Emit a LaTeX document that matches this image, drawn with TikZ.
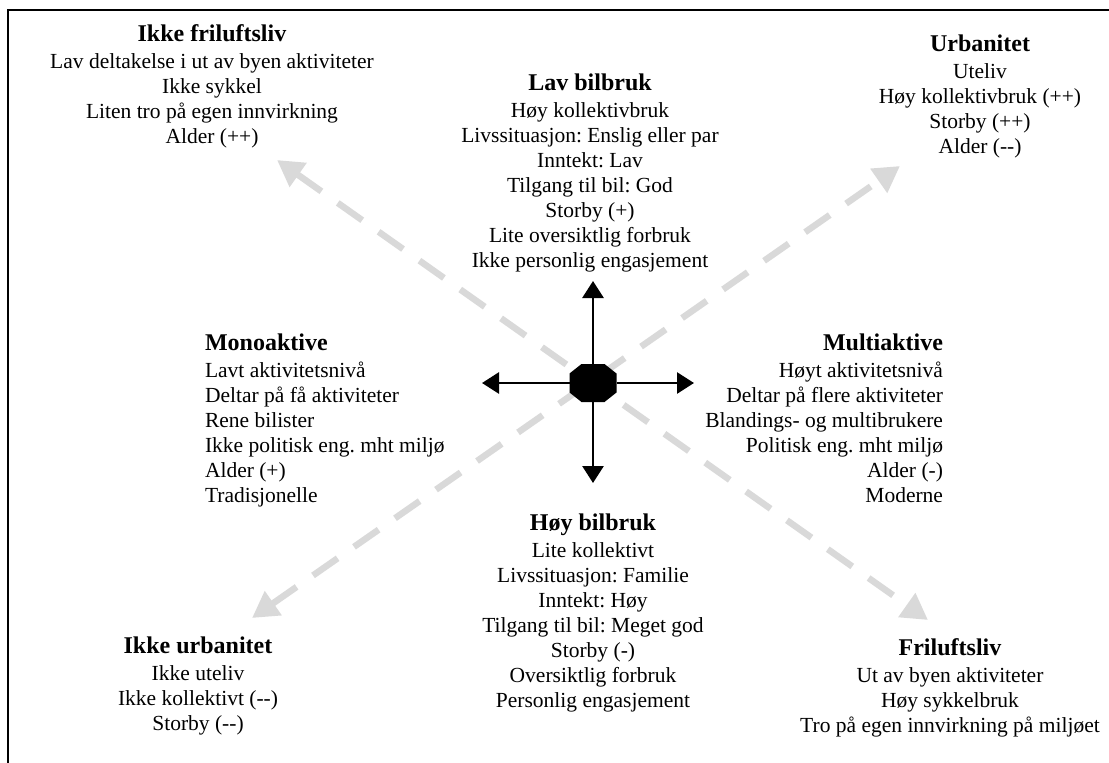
\documentclass[tikz,border=0pt]{standalone}
\usepackage{fontspec}
\setmainfont{Liberation Serif}
\usetikzlibrary{arrows.meta}
\frenchspacing
\newcommand\blocktitle[1]{{\fontsize{24}{25}\selectfont\bfseries #1}\\[2pt]}
\begin{document}
\begin{tikzpicture}[x=1pt,y=-1pt,
  every node/.style={inner sep=0pt, outer sep=0pt},
  block/.style={align=center, font=\fontsize{21.5}{25}\selectfont},
  leftblock/.style={align=left, font=\fontsize{21.5}{25}\selectfont},
  rightblock/.style={align=right, font=\fontsize{21.5}{25}\selectfont},
  frame/.style={line width=2pt},
  axisarrow/.style={line width=2.8pt, -{Triangle[length=17pt,width=21pt]}},
  diagarrow/.style={draw=black!15, line width=6.5pt, dash pattern=on 30pt off 20pt,
    {Triangle[length=26pt,width=28pt]}-{Triangle[length=26pt,width=28pt]}},
  hubbox/.style={rectangle, minimum width=47pt, minimum height=38pt}
]
\useasboundingbox (0,0) rectangle (1109,763);

% open frame: top and left edges
\draw[frame] (8,763) -- (8,10) -- (1109,10);

% end points of the two diagonal axes
\coordinate (ulA) at (277,160);
\coordinate (lrA) at (928,620);
\coordinate (urB) at (900,166);
\coordinate (llB) at (252,618);
\draw[diagarrow] (ulA) -- (lrA);
\draw[diagarrow] (llB) -- (urB);

% central hub: a black octagon with the four axes
\node[hubbox] (hub) at (593,383) {};
\fill ([xshift=12pt]hub.north west) -- ([xshift=-12pt]hub.north east)
  -- ([yshift=-9.5pt]hub.north east) -- ([yshift=9.5pt]hub.south east)
  -- ([xshift=-12pt]hub.south east) -- ([xshift=12pt]hub.south west)
  -- ([yshift=9.5pt]hub.south west) -- ([yshift=-9.5pt]hub.north west) -- cycle;
\coordinate (upT) at (593,281);
\coordinate (downT) at (593,483);
\coordinate (leftT) at (482,383);
\coordinate (rightT) at (694,383);
\draw[axisarrow] (hub.north) -- (upT);
\draw[axisarrow] (hub.south) -- (downT);
\draw[axisarrow] (hub.west) -- (leftT);
\draw[axisarrow] (hub.east) -- (rightT);

% text blocks
\node[block, anchor=north] (ikkefri) at (212,24.7) {\blocktitle{Ikke friluftsliv}
Lav deltakelse i ut av byen aktiviteter\\ Ikke sykkel\\ Liten tro på egen innvirkning\\ Alder (++)};

\node[block, anchor=north] (lavbil) at (590,73.7) {\blocktitle{Lav bilbruk}
Høy kollektivbruk\\ Livssituasjon: Enslig eller par\\ Inntekt: Lav\\ Tilgang til bil: God\\
Storby (+)\\ Lite oversiktlig forbruk\\ Ikke personlig engasjement};

\node[block, anchor=north] (urban) at (980,34.7) {\blocktitle{Urbanitet}
Uteliv\\ Høy kollektivbruk (++)\\ Storby (++)\\ Alder (-{}-)};

\node[leftblock, anchor=north west] (mono) at (205,333.7) {\blocktitle{Monoaktive}
Lavt aktivitetsnivå\\ Deltar på få aktiviteter\\ Rene bilister\\ Ikke politisk eng. mht miljø\\
Alder (+)\\ Tradisjonelle};

\node[rightblock, anchor=north east] (multi) at (943,333.7) {\blocktitle{Multiaktive}
Høyt aktivitetsnivå\\ Deltar på flere aktiviteter\\ Blandings- og multibrukere\\ Politisk eng. mht miljø\\
Alder (-)\\ Moderne};

\node[block, anchor=north] (hoybil) at (593,513.7) {\blocktitle{Høy bilbruk}
Lite kollektivt\\ Livssituasjon: Familie\\ Inntekt: Høy\\ Tilgang til bil: Meget god\\
Storby (-)\\ Oversiktlig forbruk\\ Personlig engasjement};

\node[block, anchor=north] (ikkeurb) at (198,636.7) {\blocktitle{Ikke urbanitet}
Ikke uteliv\\ Ikke kollektivt (-{}-)\\ Storby (-{}-)};

\node[block, anchor=north] (frilufts) at (950,638.7) {\blocktitle{Friluftsliv}
Ut av byen aktiviteter\\ Høy sykkelbruk\\ Tro på egen innvirkning på miljøet};
\end{tikzpicture}
\end{document}
